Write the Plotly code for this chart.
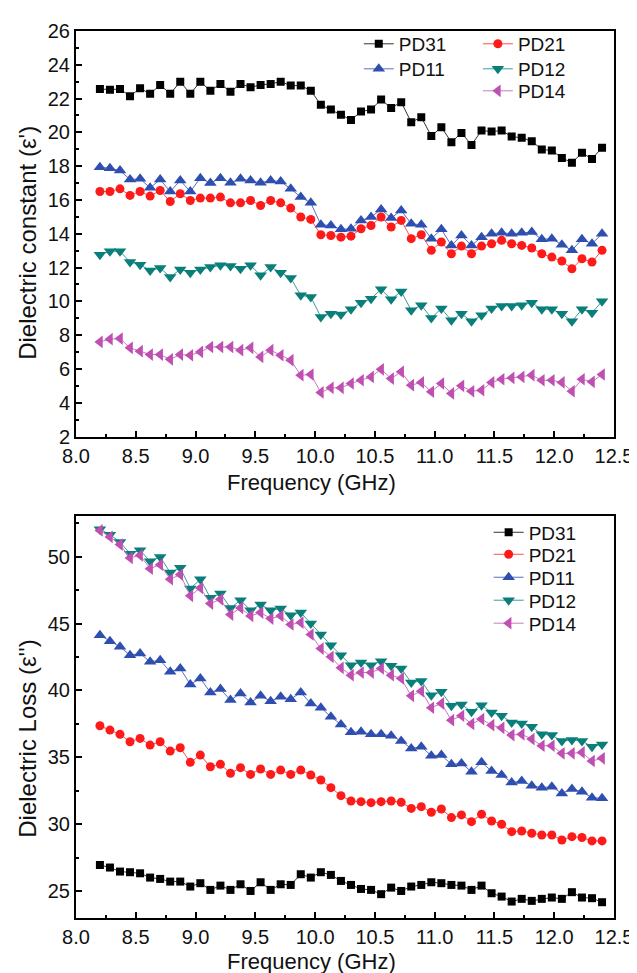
import plotly.graph_objects as go

freq = [8.2, 8.284, 8.368, 8.452, 8.536, 8.62, 8.704, 8.788, 8.872, 8.956,
        9.04, 9.124, 9.208, 9.292, 9.376, 9.46, 9.544, 9.628, 9.712, 9.796,
        9.88, 9.964, 10.048, 10.132, 10.216, 10.3, 10.384, 10.468, 10.552, 10.636,
        10.72, 10.804, 10.888, 10.972, 11.056, 11.14, 11.224, 11.308, 11.392, 11.476,
        11.56, 11.644, 11.728, 11.812, 11.896, 11.98, 12.064, 12.148, 12.232, 12.316, 12.4]

series_names = ["PD31", "PD21", "PD11", "PD12", "PD14"]

# Dielectric constant (epsilon')
eps_PD31 = [22.57, 22.53, 22.57, 22.14, 22.61, 22.28, 22.81, 22.28, 23.0, 22.28,
            23.0, 22.47, 22.87, 22.41, 22.87, 22.67, 22.81, 22.87, 23.0, 22.77,
            22.77, 22.47, 21.63, 21.35, 21.04, 20.74, 21.23, 21.35, 21.94, 21.45,
            21.79, 20.60, 20.90, 19.78, 20.31, 19.42, 19.97, 19.26, 20.11, 20.05,
            20.11, 19.75, 19.68, 19.48, 18.99, 18.93, 18.49, 18.20, 18.79, 18.43, 19.09]
eps_PD21 = [16.50, 16.50, 16.66, 16.27, 16.50, 16.23, 16.56, 15.91, 16.37, 15.97,
            16.11, 16.11, 16.17, 15.83, 15.83, 15.97, 15.67, 15.97, 15.83, 15.52,
            14.99, 14.85, 13.94, 13.90, 13.80, 13.86, 14.30, 14.49, 14.99, 14.40,
            14.79, 13.71, 13.94, 13.02, 13.51, 12.82, 13.27, 12.82, 13.27, 13.41,
            13.61, 13.41, 13.31, 13.16, 12.82, 12.62, 12.39, 11.93, 12.52, 12.33, 13.02]
eps_PD11 = [17.94, 17.88, 17.74, 17.21, 17.25, 16.72, 17.21, 16.50, 17.15, 16.50,
            17.29, 17.0, 17.29, 17.02, 17.25, 17.15, 17.02, 17.15, 17.09, 16.66,
            16.17, 15.83, 14.53, 14.49, 14.26, 14.30, 14.79, 14.99, 15.44, 14.93,
            15.38, 14.59, 14.53, 13.71, 14.26, 13.31, 13.90, 13.31, 13.80, 14.0,
            14.06, 14.0, 14.06, 14.10, 13.67, 13.71, 13.35, 13.02, 13.67, 13.41, 14.0]
eps_PD12 = [12.76, 12.96, 12.96, 12.33, 12.17, 11.83, 11.97, 11.44, 11.89, 11.70,
            11.89, 12.03, 12.13, 12.09, 11.93, 12.13, 11.54, 12.03, 11.70, 11.38,
            10.36, 10.26, 9.08, 9.27, 9.22, 9.53, 9.92, 10.16, 10.71, 10.12,
            10.59, 9.47, 9.77, 9.02, 9.57, 8.88, 9.27, 8.82, 9.18, 9.57,
            9.73, 9.73, 9.77, 9.92, 9.53, 9.53, 9.27, 8.82, 9.53, 9.33, 10.0]
eps_PD14 = [7.60, 7.76, 7.80, 7.25, 7.05, 6.85, 6.85, 6.57, 6.85, 6.81,
            7.01, 7.30, 7.30, 7.30, 7.11, 7.25, 6.71, 7.11, 6.81, 6.52,
            5.63, 5.67, 4.61, 4.88, 4.88, 5.14, 5.33, 5.53, 5.98, 5.43,
            5.83, 5.04, 5.20, 4.65, 5.14, 4.55, 5.0, 4.68, 4.74, 5.20,
            5.39, 5.47, 5.53, 5.63, 5.33, 5.33, 5.20, 4.68, 5.39, 5.24, 5.67]

# Dielectric loss (epsilon'')
loss_PD31 = [26.96, 26.77, 26.47, 26.42, 26.34, 26.02, 25.92, 25.72, 25.72, 25.35,
             25.60, 25.10, 25.42, 25.10, 25.52, 25.02, 25.67, 25.10, 25.52, 25.47,
             26.27, 26.02, 26.42, 26.22, 25.77, 25.47, 25.17, 25.10, 24.78, 25.27,
             25.02, 25.35, 25.47, 25.67, 25.60, 25.47, 25.42, 25.10, 25.42, 24.85,
             24.60, 24.23, 24.43, 24.28, 24.43, 24.53, 24.43, 24.93, 24.53, 24.48, 24.18]
loss_PD21 = [37.36, 37.04, 36.72, 36.17, 36.42, 35.92, 36.17, 35.47, 35.72, 34.63,
             35.17, 34.30, 34.48, 33.81, 34.23, 33.73, 34.13, 33.73, 34.05, 33.73,
             34.05, 33.68, 33.31, 32.74, 32.14, 31.74, 31.69, 31.62, 31.69, 31.74,
             31.64, 31.19, 31.32, 30.90, 31.14, 30.50, 30.70, 30.20, 30.75, 30.25,
             30.0, 29.45, 29.50, 29.33, 29.20, 29.20, 28.83, 29.08, 29.01, 28.76, 28.76]
loss_PD11 = [44.13, 43.68, 43.26, 42.63, 42.76, 42.14, 42.26, 41.39, 41.64, 40.45,
             40.90, 39.85, 40.10, 39.28, 39.78, 39.10, 39.60, 39.20, 39.53, 39.35,
             39.85, 39.03, 38.71, 38.04, 37.46, 36.87, 36.92, 36.72, 36.72, 36.62,
             36.22, 35.67, 35.80, 35.12, 35.17, 34.48, 34.55, 33.93, 34.63, 33.98,
             33.68, 33.13, 33.23, 32.89, 32.74, 32.81, 32.31, 32.64, 32.44, 31.99, 31.94]
loss_PD12 = [52.04, 51.64, 51.09, 50.22, 50.47, 49.65, 49.98, 48.81, 49.16, 47.61,
             48.31, 46.92, 47.24, 46.17, 46.74, 45.99, 46.42, 45.99, 46.12, 45.62,
             45.82, 45.0, 44.18, 43.38, 42.63, 41.89, 42.09, 41.89, 42.19, 41.84,
             41.64, 40.60, 40.70, 39.65, 39.90, 38.86, 38.96, 38.41, 38.90, 38.36,
             38.11, 37.61, 37.54, 37.29, 36.72, 36.67, 36.22, 36.29, 36.22, 35.80, 35.97]
loss_PD14 = [51.96, 51.47, 50.90, 49.90, 50.10, 49.10, 49.40, 48.31, 48.66, 47.07,
             47.66, 46.49, 46.81, 45.67, 46.17, 45.57, 45.82, 45.37, 45.57, 44.93,
             45.07, 44.18, 43.13, 42.51, 41.69, 41.14, 41.34, 41.34, 41.64, 41.14,
             40.90, 39.60, 39.95, 38.71, 39.03, 37.78, 38.11, 37.50, 37.86, 37.41,
             37.21, 36.67, 36.72, 36.37, 35.87, 35.87, 35.30, 35.30, 35.37, 34.73, 34.93]

x_ticks = [8.0, 8.5, 9.0, 9.5, 10.0, 10.5, 11.0, 11.5, 12.0, 12.5]

eps_data = [eps_PD31, eps_PD21, eps_PD11, eps_PD12, eps_PD14]
loss_data = [loss_PD31, loss_PD21, loss_PD11, loss_PD12, loss_PD14]

styles = {
    "PD31": dict(color="#000000", line="#333333", symbol="square", size=8),
    "PD21": dict(color="#ff1a1a", line="#ff4d4d", symbol="circle", size=9),
    "PD11": dict(color="#2f4fb0", line="#5a6fc4", symbol="triangle-up", size=11),
    "PD12": dict(color="#0a7f7a", line="#3a9e99", symbol="triangle-down", size=11),
    "PD14": dict(color="#bf4fb0", line="#cc77c2", symbol="triangle-left", size=11),
}

FONT = "Liberation Sans, Arial, sans-serif"
TXT = "#111111"

# legend placement (paper coords): one legend per entry
top_leg_pos = {"PD31": (0.5256, 0.9854), "PD21": (0.747, 0.9854),
               "PD11": (0.5256, 0.9572), "PD12": (0.747, 0.9572),
               "PD14": (0.747, 0.9324)}
bot_leg_pos = {"PD31": (0.767, 0.4347), "PD21": (0.767, 0.4099),
               "PD11": (0.767, 0.3840), "PD12": (0.767, 0.3581),
               "PD14": (0.767, 0.3322)}

fig = go.Figure()
legend_layouts = {}
leg_idx = 0


def new_legend(pos):
    global leg_idx
    leg_idx += 1
    key = "legend" if leg_idx == 1 else f"legend{leg_idx}"
    legend_layouts[key] = dict(x=pos[0], y=pos[1], xanchor="left", yanchor="middle",
                               bgcolor="rgba(0,0,0,0)", borderwidth=0,
                               font=dict(family=FONT, size=19, color=TXT))
    return key


for name, ys in zip(series_names, eps_data):
    s = styles[name]
    fig.add_trace(go.Scatter(
        x=freq, y=ys, name=name, mode="lines+markers",
        line=dict(color=s["line"], width=1),
        marker=dict(symbol=s["symbol"], size=s["size"], color=s["color"], line=dict(width=0)),
        xaxis="x", yaxis="y", legend=new_legend(top_leg_pos[name]),
    ))

for name, ys in zip(series_names, loss_data):
    s = styles[name]
    fig.add_trace(go.Scatter(
        x=freq, y=ys, name=name, mode="lines+markers",
        line=dict(color=s["line"], width=1),
        marker=dict(symbol=s["symbol"], size=s["size"], color=s["color"], line=dict(width=0)),
        xaxis="x2", yaxis="y2", legend=new_legend(bot_leg_pos[name]),
    ))

axis_common = dict(
    showline=True, linecolor="black", linewidth=2, mirror=True,
    ticks="inside", ticklen=6, tickwidth=1.5, tickcolor="black",
    showgrid=False, zeroline=False,
    tickfont=dict(family=FONT, size=20, color=TXT),
)

xcommon = dict(axis_common, range=[8.0, 12.5], tickvals=x_ticks,
               ticktext=[f"{v:.1f}" for v in x_ticks],
               minor=dict(ticks="inside", ticklen=3, tickwidth=1.5, tickcolor="black", dtick=0.25, tick0=8.0))

title_font = dict(family=FONT, size=22, color=TXT)
ytitle_font = dict(family=FONT, size=24, color=TXT)

annotations = [
    dict(text="Frequency (GHz)", xref="paper", yref="paper", x=0.4377, y=0.4905,
         xanchor="center", yanchor="middle", showarrow=False, font=title_font),
    dict(text="Frequency (GHz)", xref="paper", yref="paper", x=0.4377, y=-0.0490,
         xanchor="center", yanchor="middle", showarrow=False, font=title_font),
    dict(text="Dielectric constant (ε')", xref="paper", yref="paper", x=-0.0895, y=0.761,
         xanchor="center", yanchor="middle", textangle=-90, showarrow=False, font=ytitle_font),
    dict(text="Dielectric Loss (ε'')", xref="paper", yref="paper", x=-0.0895, y=0.203,
         xanchor="center", yanchor="middle", textangle=-90, showarrow=False, font=ytitle_font),
]

fig.update_layout(
    width=637, height=973,
    margin=dict(l=68, r=23, t=22, b=63),
    paper_bgcolor="white", plot_bgcolor="white",
    showlegend=True,
    xaxis=dict(xcommon, anchor="y", domain=[0, 1]),
    yaxis=dict(axis_common, anchor="x", domain=[0.5428, 1], range=[2, 26], dtick=2, tick0=2,
               minor=dict(ticks="inside", ticklen=3, tickwidth=1.5, tickcolor="black", dtick=1)),
    xaxis2=dict(xcommon, anchor="y2", domain=[0, 1]),
    yaxis2=dict(axis_common, anchor="x2", domain=[0, 0.4527], range=[23, 53], dtick=5, tick0=25,
                minor=dict(ticks="inside", ticklen=3, tickwidth=1.5, tickcolor="black", dtick=2.5)),
    annotations=annotations,
    **legend_layouts,
)

fig.write_html("out.html")
